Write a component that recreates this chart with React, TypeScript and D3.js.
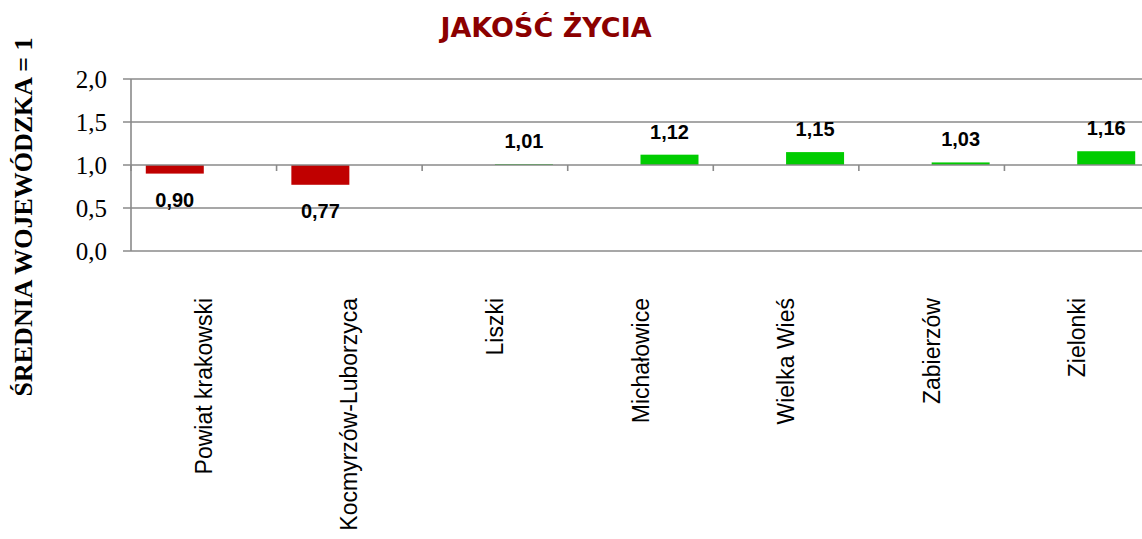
import React from "react";
import * as d3 from "d3";

const categories = [
  "Powiat krakowski",
  "Kocmyrzów-Luborzyca",
  "Liszki",
  "Michałowice",
  "Wielka Wieś",
  "Zabierzów",
  "Zielonki",
];
const values = [0.9, 0.77, 1.01, 1.12, 1.15, 1.03, 1.16];
const yTicks = [0, 0.5, 1, 1.5, 2];
const baseline = 1;
const title = "JAKOŚĆ ŻYCIA";
const yTitle = "ŚREDNIA WOJEWÓDZKA = 1";

const W = 1142;
const H = 539;
const left = 131;
const right = 1150;
const top = 79;
const bottom = 251;
const serif = "'Liberation Serif', 'Times New Roman', Times, serif";
const sans = "'Liberation Sans', Arial, Helvetica, sans-serif";

export default function App() {
  const x = d3.scaleBand<string>().domain(categories).range([left, right]);
  const sub = d3
    .scaleBand<string>()
    .domain(["below", "above"])
    .range([0, x.bandwidth()])
    .paddingInner(0)
    .paddingOuter(0.255);
  const y = d3.scaleLinear().domain([0, 2]).range([bottom, top]);
  const fmt = (v: number, d: number) => v.toFixed(d).replace(".", ",");
  const grid = "#8a8a8a";

  return (
    <svg
      width={W}
      height={H}
      style={{ position: "absolute", left: 0, top: 0, background: "#fff" }}
    >
      <rect x={0} y={0} width={W} height={H} fill="#fff" />
      <text
        x={546}
        y={37}
        textAnchor="middle"
        fontFamily="'DejaVu Sans', Verdana, sans-serif"
        fontWeight="bold"
        fontSize={27}
        fill="#8b0000"
      >
        {title}
      </text>
      <text
        transform={`translate(23,217) rotate(-90)`}
        textAnchor="middle"
        dy="0.35em"
        fontFamily={serif}
        fontWeight="bold"
        fontSize={26}
        fill="#000"
      >
        {yTitle}
      </text>
      {yTicks.map((t) => (
        <g key={t}>
          {t !== baseline && (
            <line
              x1={left - 8}
              x2={W}
              y1={y(t)}
              y2={y(t)}
              stroke={grid}
              strokeWidth={1.6}
            />
          )}
          <text
            x={107}
            y={y(t)}
            dy="0.35em"
            textAnchor="end"
            fontFamily={serif}
            fontSize={25}
            fill="#000"
          >
            {fmt(t, 1)}
          </text>
        </g>
      ))}
      <line x1={left} x2={left} y1={top} y2={bottom} stroke={grid} strokeWidth={1.6} />
      {categories.map((c, i) => {
        const v = values[i];
        const below = v < baseline;
        const bx = x(c)! + sub(below ? "below" : "above")!;
        const y0 = y(baseline);
        const y1 = y(v);
        return (
          <g key={c}>
            <rect
              x={bx}
              width={sub.bandwidth()}
              y={Math.min(y0, y1)}
              height={Math.abs(y1 - y0)}
              fill={below ? "#c00000" : "#00cc00"}
            />
            <text
              x={bx + sub.bandwidth() / 2}
              y={below ? y1 + 33 : y1 - 16}
              textAnchor="middle"
              fontFamily={sans}
              fontWeight="bold"
              fontSize={20}
              fill="#000"
            >
              {fmt(v, 2)}
            </text>
            <text
              transform={`translate(${x(c)! + x.bandwidth() / 2},298) rotate(-90)`}
              dy="0.35em"
              textAnchor="end"
              fontFamily={sans}
              fontSize={23}
              fill="#000"
            >
              {c}
            </text>
          </g>
        );
      })}
      <line
        x1={left - 8}
        x2={W}
        y1={y(baseline)}
        y2={y(baseline)}
        stroke={grid}
        strokeWidth={1.6}
      />
      {categories.map((c, i) => (
        <line
          key={"tk" + i}
          x1={x(c)!}
          x2={x(c)!}
          y1={y(baseline)}
          y2={y(baseline) + 6}
          stroke={grid}
          strokeWidth={1.6}
        />
      ))}
    </svg>
  );
}
